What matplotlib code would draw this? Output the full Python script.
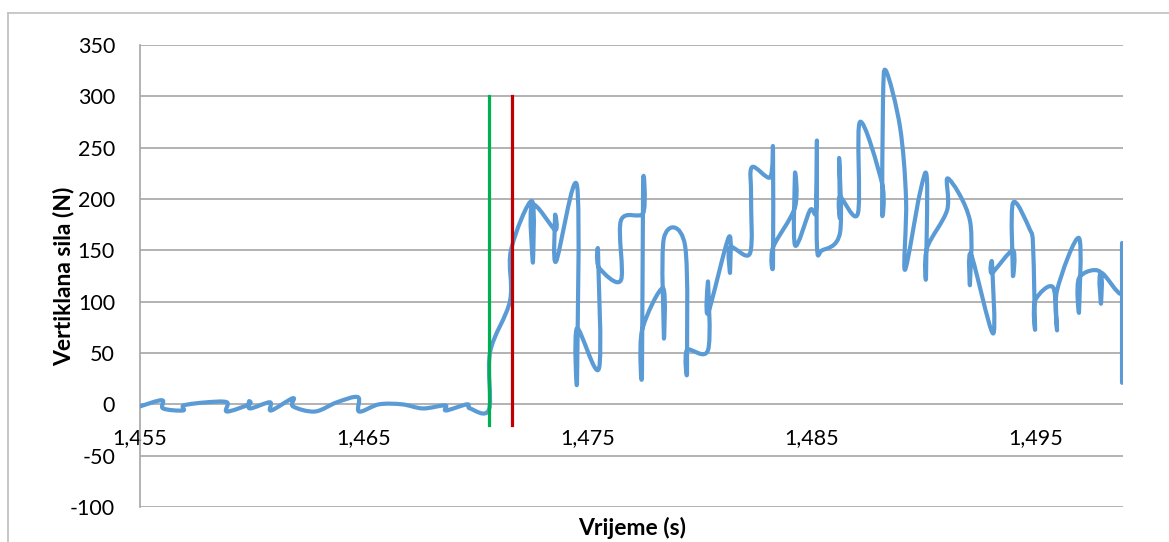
import numpy as np
import matplotlib.pyplot as plt
from matplotlib.path import Path
from matplotlib.patches import PathPatch
from matplotlib.lines import Line2D

plt.rcParams['font.family'] = ['Lato', 'DejaVu Sans']

# Vrijeme (s) i vertikalna sila (N), ocitano sa slike
vrijeme = [1.45500, 1.45598, 1.45603, 1.45692, 1.45696, 1.45799, 1.45888, 1.45888,
           1.45987, 1.45987, 1.45991, 1.46080, 1.46085, 1.46183, 1.46183, 1.46281,
           1.46379, 1.46473, 1.46478, 1.46567, 1.46670, 1.46763, 1.46862, 1.46866,
           1.46960, 1.46973, 1.47058,
           1.47063, 1.47152, 1.47156, 1.47250, 1.47254, 1.47250, 1.47353, 1.47353,
           1.47357, 1.47451, 1.47451, 1.47451, 1.47549, 1.47545, 1.47549, 1.47647,
           1.47647, 1.47746, 1.47746, 1.47741, 1.47741, 1.47835, 1.47839, 1.47839,
           1.47933, 1.47942, 1.47942, 1.48036, 1.48036, 1.48036, 1.48129, 1.48134,
           1.48134, 1.48223, 1.48228, 1.48232, 1.48313, 1.48326, 1.48326, 1.48326,
           1.48424, 1.48424, 1.48424, 1.48491, 1.48518, 1.48522, 1.48522, 1.48545,
           1.48625, 1.48621, 1.48625, 1.48625, 1.48705, 1.48714, 1.48813, 1.48813,
           1.48817, 1.48830, 1.48893, 1.48920, 1.48915, 1.48982, 1.49013, 1.49009,
           1.49013, 1.49103, 1.49107, 1.49205, 1.49205, 1.49210, 1.49308, 1.49304,
           1.49304, 1.49397, 1.49397, 1.49397, 1.49473, 1.49487, 1.49496, 1.49496,
           1.49576, 1.49594, 1.49594, 1.49692, 1.49692, 1.49692, 1.49786, 1.49790,
           1.49790, 1.49884, 1.49884, 1.49884]
sila = [-2, 4, -4, -6, -1, 2, 2, -7,
        0, 3, -4, 2, -6, 6, -2, -7,
        2, 7, -7, 0, 0, -4, -1, -6,
        0, -4, -5,
        51, 101, 150, 198, 138, 194, 170, 184,
        139, 213, 23, 74, 35, 147, 133, 121,
        179, 186, 215, 30, 72, 113, 64, 162,
        155, 33, 53, 53, 119, 89, 163, 128,
        153, 147, 202, 231, 221, 248, 137, 153,
        192, 225, 155, 189, 189, 257, 155, 150,
        167, 240, 182, 202, 186, 275, 215, 187,
        296, 325, 270, 199, 131, 206, 220, 124,
        152, 189, 220, 179, 116, 146, 69, 137,
        128, 150, 126, 196, 170, 153, 74, 101,
        114, 72, 111, 162, 90, 123, 129, 98,
        128, 108, 155, 21]

# Oznake pocetka kontakta
zelena_t = 1.47060
crvena_t = 1.47159
oznaka_sila = [-20, 300]

x_ticks = [1.455, 1.465, 1.475, 1.485, 1.495]
y_ticks = [-100, -50, 0, 50, 100, 150, 200, 250, 300, 350]


def glatka_putanja(xs, ys, k=1 / 6):
    # Bezier krivulja kroz tocke (kao "smoothed line" u Excelu)
    p = np.column_stack([xs, ys]).astype(float)
    n = len(p)
    verts = [p[0]]
    codes = [Path.MOVETO]
    for i in range(n - 1):
        p0 = p[i - 1] if i > 0 else p[i]
        p3 = p[i + 2] if i + 2 < n else p[i + 1]
        c1 = p[i] + (p[i + 1] - p0) * k
        c2 = p[i + 1] - (p3 - p[i]) * k
        verts += [c1, c2, p[i + 1]]
        codes += [Path.CURVE4] * 3
    return Path(verts, codes)


fig = plt.figure(figsize=(11.69, 5.42), dpi=100)
ax = fig.add_axes([140 / 1169, 35 / 542, 983 / 1169, 462 / 542])

ax.add_patch(PathPatch(glatka_putanja(vrijeme, sila), fill=False,
                       edgecolor='#5B9BD5', lw=3.0, capstyle='round',
                       joinstyle='round', zorder=3))
ax.plot([zelena_t, zelena_t], oznaka_sila, color='#00B050', lw=2.3, zorder=4)
ax.plot([crvena_t, crvena_t], oznaka_sila, color='#C00000', lw=2.3, zorder=4)

ax.set_xlim(1.455, 1.45500 + 983 / 22400)
ax.set_ylim(-100, 350)
ax.set_xticks(x_ticks)
ax.set_xticklabels([f'{v:.3f}'.replace('.', ',') for v in x_ticks])
ax.set_yticks(y_ticks)
ax.set_yticklabels([str(v) for v in y_ticks])
ax.tick_params(length=0, labelsize=15.5, colors='black')
ax.tick_params(axis='x', pad=17)
ax.tick_params(axis='y', pad=18)
ax.yaxis.grid(True, color='#A6A6A6', lw=1.2)
ax.set_axisbelow(True)

ax.spines['bottom'].set_position(('data', 0))
ax.spines['bottom'].set_visible(False)
ax.spines['top'].set_visible(False)
ax.spines['right'].set_visible(False)
ax.spines['left'].set_color('#A6A6A6')
ax.spines['left'].set_linewidth(1.2)

ax.set_ylabel('Vertiklana sila (N)', fontsize=16.5, fontweight='bold')
ax.yaxis.set_label_coords(-66 / 983, 0.5)
fig.text(632 / 1169, 1 - 528 / 542, 'Vrijeme (s)', fontsize=16.5,
         fontweight='bold', ha='center', va='center')

# okvir grafikona
fig.add_artist(Line2D([8 / 1169, 1], [1 - 13 / 542, 1 - 13 / 542],
                      color='#BFBFBF', lw=1.2))
fig.add_artist(Line2D([8 / 1169, 8 / 1169], [0, 1 - 13 / 542],
                      color='#BFBFBF', lw=1.2))

fig.savefig('out.png', dpi=100)
